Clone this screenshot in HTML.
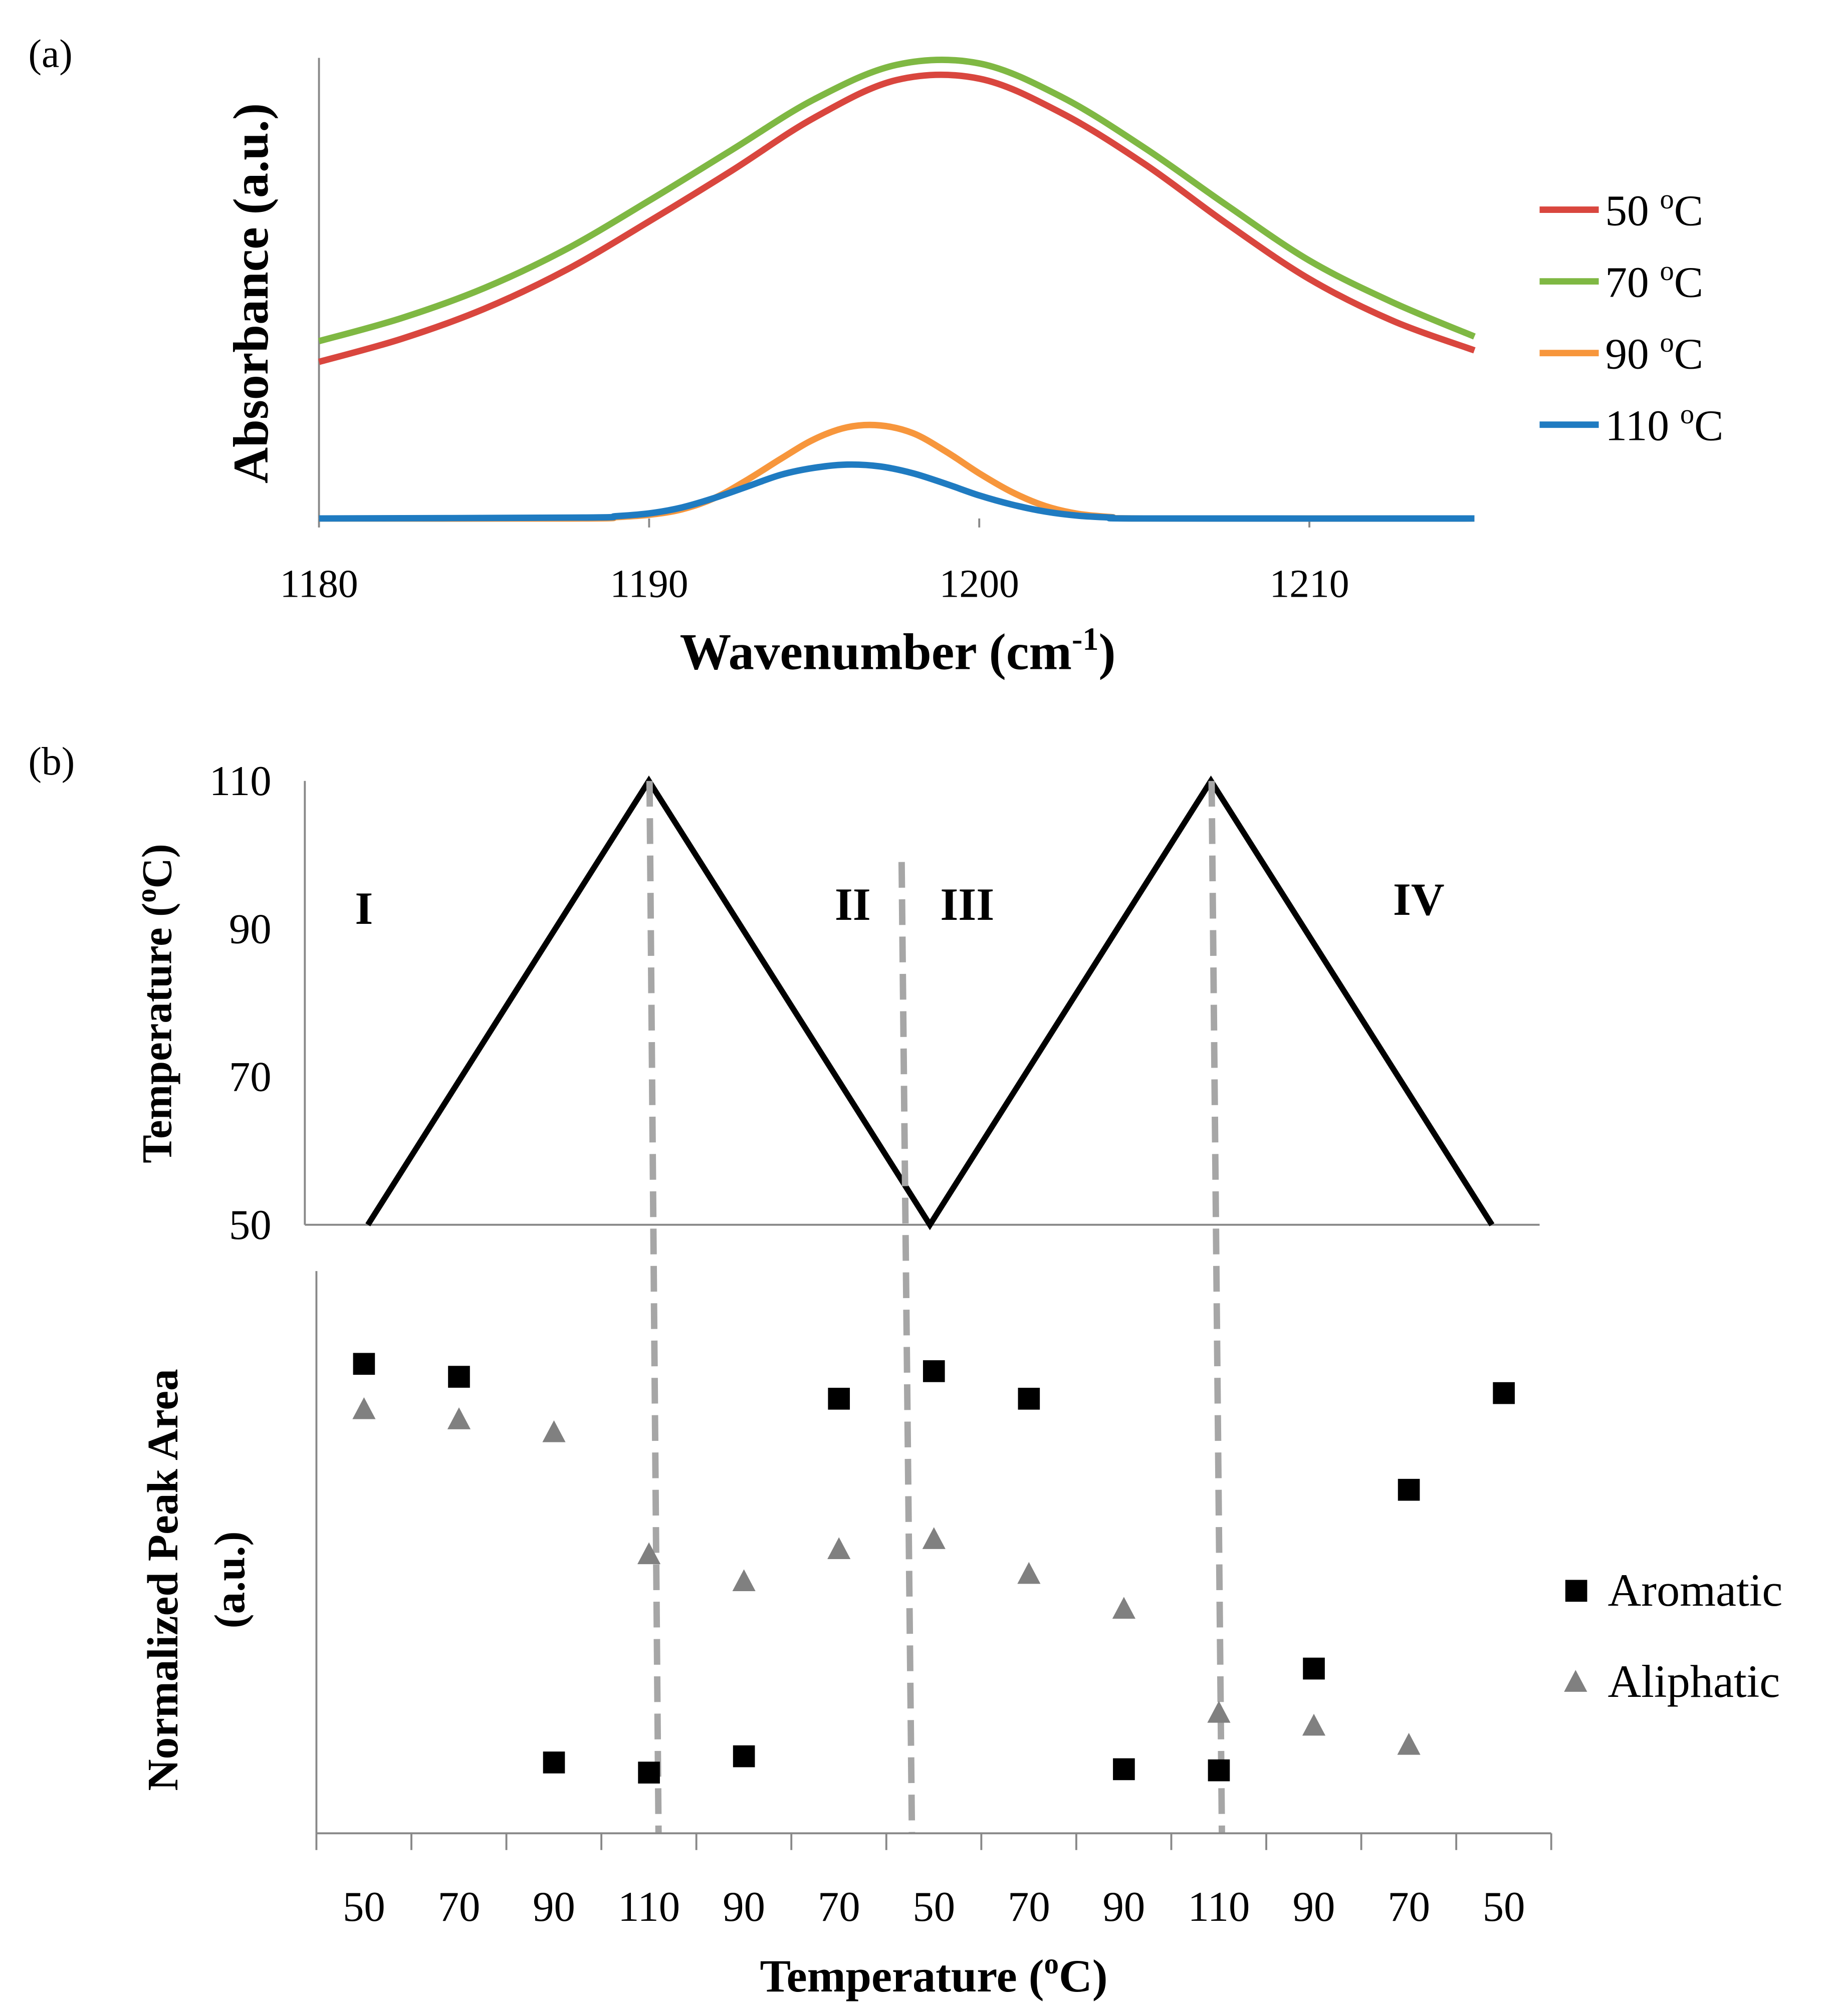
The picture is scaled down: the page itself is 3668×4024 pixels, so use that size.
<!DOCTYPE html>
<html><head><meta charset="utf-8"><style>
html,body{margin:0;padding:0;background:#fff}
svg{display:block}
text{font-family:"Liberation Serif",serif;fill:#000}
</style></head><body>
<svg id="fig" width="3668" height="4024" viewBox="0 0 1429 1567" preserveAspectRatio="none" xmlns="http://www.w3.org/2000/svg">
<rect width="1429" height="1567" fill="#fff"/>
<text x="22" y="52" font-size="31">(a)</text>
<text x="22" y="602" font-size="31">(b)</text>
<g id="pa"></g>
<g id="pb1"></g>
<g id="pb2"></g>
</svg>
<script>
// ---- Panel (a) data ----
const wnRed = [1180,1182.5,1185,1187.5,1190,1192.5,1195,1197.5,1200,1202.5,1205,1207.5,1210,1212.5,1215];
const absRed = [.34,.39,.455,.54,.645,.755,.87,.952,.955,.88,.77,.64,.52,.43,.365];
const absGreen = [.385,.435,.5,.585,.69,.8,.91,.985,.988,.915,.805,.68,.56,.47,.395];
const wnNarrow = [1180,1188,1189,1190,1191,1192,1193,1194,1195,1196,1197,1198,1199,1200,1201,1202,1203,1204,1205,1215];
const absOrange = [0,0,.003,.008,.02,.045,.085,.13,.172,.198,.202,.185,.145,.098,.057,.027,.01,.003,0,0];
const absBlue = [0,.002,.005,.011,.024,.045,.07,.095,.11,.117,.113,.098,.075,.05,.03,.015,.006,.002,0,0];
const xTicksA = [1180,1190,1200,1210];
const legendA = ["50 \u00baC","70 \u00baC","90 \u00baC","110 \u00baC"];
// ---- Panel (b) data ----
const catLabels = ["50","70","90","110","90","70","50","70","90","110","90","70","50"];
const profileIdx = [0,3,6,9,12];
const profileTemp = [50,110,50,110,50];
const tempTicks = [50,70,90,110];
const aromatic = [.835,.812,.126,.108,.137,.773,.822,.773,.114,.112,.293,.611,.783];
const aliphatic = [.755,.737,.714,.497,.449,.506,.524,.462,.400,.215,.192,.158,null];

const NS="http://www.w3.org/2000/svg";
function mk(parent,tag,attrs,txt){const e=document.createElementNS(NS,tag);for(const k in attrs)e.setAttribute(k,attrs[k]);if(txt!==undefined)e.textContent=txt;parent.appendChild(e);return e;}

// Panel (a)
const pa=document.getElementById('pa');
const ax=w=>248+(w-1180)*(770/30);
const ay=v=>403-v*358;
let e=mk(pa,'line',{x1:248,y1:45,x2:248,y2:403,stroke:'#888','stroke-width':1.5});

xTicksA.forEach(t=>{
  let l=mk(pa,'line',{x1:ax(t),y1:403,x2:ax(t),y2:410,stroke:'#888','stroke-width':1.5});
  
  let tx=mk(pa,'text',{x:ax(t),y:464,'font-size':31,'text-anchor':'middle'},String(t));
  
});
function smooth(xs,ys){
  const p=xs.map((x,i)=>[ax(x),ay(ys[i])]);
  let d='M'+p[0][0]+','+p[0][1];
  for(let i=0;i<p.length-1;i++){
    const p0=p[Math.max(0,i-1)],p1=p[i],p2=p[i+1],p3=p[Math.min(p.length-1,i+2)];
    const c1=[p1[0]+(p2[0]-p0[0])/6,p1[1]+(p2[1]-p0[1])/6];
    const c2=[p2[0]-(p3[0]-p1[0])/6,p2[1]-(p3[1]-p1[1])/6];
    d+=' C'+c1[0]+','+c1[1]+' '+c2[0]+','+c2[1]+' '+p2[0]+','+p2[1];
  }
  return d;
}
const seriesA=[[wnRed,absRed,'#d9463e','series-50c'],[wnRed,absGreen,'#7fb843','series-70c'],[wnNarrow,absOrange,'#f7963c','series-90c'],[wnNarrow,absBlue,'#1f7bc1','series-110c']];
seriesA.forEach(s=>{
  let p=mk(pa,'path',{d:smooth(s[0],s[1]),fill:'none',stroke:s[2],'stroke-width':5});
  
});
legendA.forEach((lab,i)=>{
  const y=163+i*55.7;
  let l=mk(pa,'line',{x1:1197,y1:y,x2:1243,y2:y,stroke:seriesA[i][2],'stroke-width':5});
  
  const parts=lab.split(' ');
  let t=mk(pa,'text',{x:1248,y:y+12,'font-size':34});
  
  t.textContent=parts[0]+' ';
  mk(t,'tspan',{'font-size':22,dy:-13},'o');
  mk(t,'tspan',{dy:13},'C');
});
e=mk(pa,'text',{x:0,y:0,'font-size':39,'font-weight':'bold','text-anchor':'middle',transform:'translate(208,228) rotate(-90)'},'Absorbance (a.u.)');

e=mk(pa,'text',{x:698,y:520,'font-size':40,'font-weight':'bold','text-anchor':'middle'},'Wavenumber (cm');

mk(e,'tspan',{'font-size':25,dy:-15},'-1');mk(e,'tspan',{dy:15},')');

// Panel (b)
const bx=i=>283+73.85*i;
const px=i=>286+72.83*i;
const pb1=document.getElementById('pb1');
const ty=t=>952-(t-50)*(345/60);
e=mk(pb1,'line',{x1:237,y1:607,x2:237,y2:952,stroke:'#888','stroke-width':1.5});

e=mk(pb1,'line',{x1:237,y1:952,x2:1197,y2:952,stroke:'#888','stroke-width':1.5});

tempTicks.forEach(t=>{
  let tx=mk(pb1,'text',{x:211,y:ty(t)+11,'font-size':33,'text-anchor':'end'},String(t));
  
});
e=mk(pb1,'polyline',{points:profileIdx.map((i,k)=>px(i)+','+ty(profileTemp[k])).join(' '),fill:'none',stroke:'#000','stroke-width':4.5});

[['I',283,718],['II',663,715],['III',752,715],['IV',1103,711]].forEach(r=>{
  let t=mk(pb1,'text',{x:r[1],y:r[2],'font-size':36,'font-weight':'bold','text-anchor':'middle'},r[0]);
  
});
e=mk(pb1,'text',{x:0,y:0,'font-size':33,'font-weight':'bold','text-anchor':'middle',transform:'translate(133,780) rotate(-90)'},'Temperature (');

mk(e,'tspan',{'font-size':22,dy:-12},'o');mk(e,'tspan',{dy:12},'C)');
[[505,607,512,1425],[701,670,709,1425],[942,607,950,1425]].forEach(d=>{
  let l=mk(pb1,'line',{x1:d[0],y1:d[1],x2:d[2],y2:d[3],stroke:'#a6a6a6','stroke-width':5,'stroke-dasharray':'20 9'});
  
});
const pb2=document.getElementById('pb2');
const vy=v=>1425-v*437;
e=mk(pb2,'line',{x1:246,y1:988,x2:246,y2:1425,stroke:'#888','stroke-width':1.5});

e=mk(pb2,'line',{x1:246,y1:1425,x2:1206,y2:1425,stroke:'#888','stroke-width':1.5});

for(let i=0;i<=catLabels.length;i++){
  let l=mk(pb2,'line',{x1:246+73.85*i,y1:1425,x2:246+73.85*i,y2:1438,stroke:'#888','stroke-width':1.5});
  
}
catLabels.forEach((c,i)=>{
  let t=mk(pb2,'text',{x:bx(i),y:1493,'font-size':33,'text-anchor':'middle'},c);
  
});
aromatic.forEach((v,i)=>{
  if(v==null)return;
  let r=mk(pb2,'rect',{x:bx(i)-8.5,y:vy(v)-8.5,width:17,height:17,fill:'#000'});
  
});
aliphatic.forEach((v,i)=>{
  if(v==null)return;
  const x=bx(i),y=vy(v);
  let p=mk(pb2,'polygon',{points:(x)+','+(y-9)+' '+(x+9)+','+(y+8)+' '+(x-9)+','+(y+8),fill:'#808080'});
  
});
e=mk(pb2,'rect',{x:1217,y:1228,width:17,height:17,fill:'#000'});

e=mk(pb2,'text',{x:1250,y:1248,'font-size':36},'Aromatic');

e=mk(pb2,'polygon',{points:'1225,1298 1234,1315 1216,1315',fill:'#808080'});

e=mk(pb2,'text',{x:1250,y:1319,'font-size':36},'Aliphatic');

e=mk(pb2,'text',{x:0,y:0,'font-size':34,'font-weight':'bold','text-anchor':'middle',transform:'translate(138,1228) rotate(-90)'},'Normalized Peak Area');

e=mk(pb2,'text',{x:0,y:0,'font-size':34,'font-weight':'bold','text-anchor':'middle',transform:'translate(190,1228) rotate(-90)'},'(a.u.)');

e=mk(pb2,'text',{x:726,y:1548,'font-size':36,'font-weight':'bold','text-anchor':'middle'},'Temperature (');

mk(e,'tspan',{'font-size':23,dy:-14},'o');mk(e,'tspan',{dy:14},'C)');
</script>
</body></html>
